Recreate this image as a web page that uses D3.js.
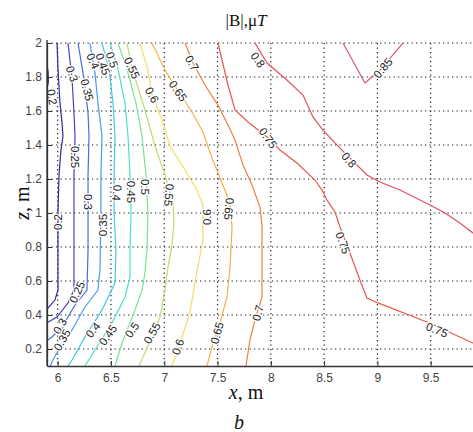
<!DOCTYPE html>
<html><head><meta charset="utf-8">
<script src="https://cdn.jsdelivr.net/npm/d3@7"></script>
<style>body{margin:0;background:#fff}svg{display:block}</style>
</head><body>
<svg id="c" width="473" height="432"></svg>
<script>
// ---- data ----
const xTicks = [6, 6.5, 7, 7.5, 8, 8.5, 9, 9.5, 10];
const zTicks = [0.2, 0.4, 0.6, 0.8, 1, 1.2, 1.4, 1.6, 1.8, 2];
const levels = [0.15, 0.2, 0.25, 0.3, 0.35, 0.4, 0.45, 0.5, 0.55, 0.6, 0.65, 0.7, 0.75, 0.8, 0.85];

const c015 = [[5.9,1.87],[5.91,1.83],[5.912,1.77],[5.9,1.73]];
const c020 = [[5.994,2.0],[6.003,1.847],[6.022,1.647],[6.041,1.529],[6.05,1.453],[6.031,1.371],[6.013,1.224],[6.003,1.0],[6.003,0.782],[6.003,0.547],[5.975,0.488],[5.9,0.435]];
const c025 = [[6.097,2.0],[6.135,1.788],[6.153,1.588],[6.163,1.453],[6.153,1.224],[6.153,0.782],[6.153,0.547],[6.097,0.471],[5.994,0.388],[5.9,0.355]];
const c030 = [[6.191,2.0],[6.247,1.788],[6.285,1.588],[6.294,1.453],[6.285,1.224],[6.285,0.782],[6.275,0.547],[6.163,0.459],[6.041,0.329],[5.947,0.271],[5.9,0.25]];
const c035 = [[6.303,2.0],[6.35,1.824],[6.378,1.647],[6.416,1.453],[6.406,1.224],[6.406,1.0],[6.397,0.665],[6.378,0.547],[6.256,0.447],[6.135,0.312],[6.022,0.212],[5.956,0.135],[5.93,0.1]];
const c040 = [[6.416,2.0],[6.482,1.847],[6.519,1.647],[6.538,1.453],[6.529,1.224],[6.529,1.0],[6.547,0.782],[6.538,0.588],[6.416,0.429],[6.256,0.271],[6.135,0.135],[6.097,0.1]];
const c045 = [[6.491,2.0],[6.566,1.847],[6.632,1.647],[6.66,1.453],[6.679,1.224],[6.688,1.0],[6.679,0.782],[6.679,0.624],[6.632,0.506],[6.51,0.353],[6.35,0.194],[6.256,0.1]];
const c050 = [[6.566,2.0],[6.65,1.847],[6.735,1.647],[6.791,1.453],[6.829,1.224],[6.847,1.0],[6.838,0.782],[6.819,0.647],[6.791,0.547],[6.726,0.429],[6.604,0.235],[6.538,0.1]];
const c055 = [[6.65,2.0],[6.697,1.853],[6.819,1.606],[6.913,1.394],[7.007,1.224],[7.082,1.059],[7.091,0.941],[7.073,0.812],[7.035,0.682],[7.007,0.547],[6.96,0.388],[6.885,0.271],[6.801,0.153],[6.763,0.1]];
const c060 = [[6.772,2.0],[6.847,1.841],[6.885,1.694],[6.979,1.547],[7.054,1.394],[7.195,1.253],[7.307,1.135],[7.363,1.047],[7.363,0.841],[7.298,0.624],[7.241,0.412],[7.148,0.235],[7.073,0.1]];
const c065 = [[6.885,2.0],[7.007,1.841],[7.129,1.718],[7.26,1.594],[7.363,1.476],[7.448,1.324],[7.542,1.176],[7.617,1.059],[7.636,0.918],[7.617,0.682],[7.589,0.506],[7.523,0.353],[7.448,0.212],[7.401,0.1]];
const c070 = [[7.195,2.0],[7.27,1.882],[7.382,1.753],[7.504,1.635],[7.598,1.518],[7.664,1.429],[7.739,1.282],[7.823,1.165],[7.898,1.035],[7.917,0.929],[7.917,0.506],[7.851,0.371],[7.804,0.253],[7.767,0.1]];
const c075 = [[7.504,2.0],[7.542,1.9],[7.598,1.753],[7.664,1.606],[7.786,1.535],[7.964,1.447],[8.086,1.371],[8.245,1.294],[8.414,1.194],[8.48,1.135],[8.527,1.076],[8.602,1.006],[8.649,0.918],[8.742,0.765],[8.836,0.606],[8.902,0.5],[9.005,0.471],[9.465,0.359],[9.896,0.235],[10,0.206]];
const c080 = [[7.851,2.0],[7.964,1.882],[8.151,1.782],[8.302,1.694],[8.395,1.565],[8.489,1.488],[8.649,1.382],[8.789,1.294],[8.902,1.224],[9.024,1.182],[9.211,1.135],[9.493,1.047],[9.634,1.0],[9.774,0.941],[9.896,0.882],[10,0.835]];
const c085 = [[8.677,2.0],[8.883,1.765],[9.024,1.841],[9.24,2.0]];

const labelText = ["0.2","0.3","0.35","0.4","0.45","0.5","0.55","0.6","0.65","0.7","0.8","0.85","0.75","0.8",
  "0.25","0.2","0.3","0.35","0.4","0.45","0.5","0.55","0.6","0.65","0.75","0.75","0.7","0.65","0.6","0.55","0.5","0.45","0.4","0.25","0.3","0.35"];
const labelX = [5.947,6.135,6.275,6.331,6.425,6.51,6.697,6.885,7.129,7.26,7.879,9.052,7.973,8.733,
  6.163,6.003,6.285,6.425,6.557,6.688,6.819,7.045,7.401,7.607,8.677,9.559,7.879,7.495,7.129,6.885,6.697,6.472,6.331,6.181,6.022,6.041];
const labelZ = [1.682,1.818,1.724,1.894,1.876,1.9,1.853,1.694,1.718,1.882,1.9,1.853,1.441,1.312,
  1.329,0.947,1.065,0.929,1.118,1.124,1.153,1.106,0.976,1.024,0.824,0.312,0.412,0.294,0.212,0.294,0.312,0.282,0.312,0.535,0.335,0.253];

// ---- styles ----
const lineColors = ["#1a1a80","#2b2b9c","#4444c8","#4a6ae0","#4a9af0","#40c8e8","#4ee0c8","#7ee09a","#b8e070","#f0e060","#f4b048","#f08040","#e85848","#e05060","#d06070"];
const labelAngle = [80,70,75,65,70,70,65,60,55,60,55,-50,55,50,
  90,-90,90,-90,95,90,90,95,-90,95,70,22,-75,-75,-70,-60,-55,-55,-50,-65,-60,-60];

const contourSets = [c015,c020,c025,c030,c035,c040,c045,c050,c055,c060,c065,c070,c075,c080,c085];

const svg = d3.select("#c");
const x = d3.scaleLinear().domain([5.9, 10]).range([47, 484]);
const z = d3.scaleLinear().domain([0.1, 2]).range([366, 43]);

svg.append("defs").append("clipPath").attr("id","clip")
  .append("rect").attr("x",47).attr("y",43).attr("width",437).attr("height",323);

// grid
const grid = svg.append("g").attr("stroke","#222").attr("stroke-width",1.2).attr("stroke-dasharray","1.3,3.2");
grid.selectAll("line.gx").data(xTicks).join("line").attr("class","gx")
  .attr("x1",d=>x(d)).attr("x2",d=>x(d)).attr("y1",43).attr("y2",366);
grid.selectAll("line.gz").data(zTicks).join("line").attr("class","gz")
  .attr("x1",47).attr("x2",484).attr("y1",d=>z(d)).attr("y2",d=>z(d));

// contours
const line = d3.line().x(d=>x(d[0])).y(d=>z(d[1]));
const cg = svg.append("g").attr("clip-path","url(#clip)");
cg.selectAll("path").data(contourSets).join("path")
  .attr("d", line).attr("fill","none")
  .attr("stroke",(d,i)=>lineColors[i]).attr("stroke-width",1.2);

// labels
const lg = svg.append("g").attr("clip-path","url(#clip)");
lg.selectAll("text").data(labelText).join("text")
  .attr("transform",(d,i)=>`translate(${x(labelX[i])},${z(labelZ[i])}) rotate(${labelAngle[i]})`)
  .attr("text-anchor","middle").attr("dy","0.35em")
  .attr("font-family","Liberation Sans, Arial, sans-serif").attr("font-size",11.5)
  .attr("fill","#222").attr("stroke","#fff").attr("stroke-width",2.5)
  .attr("paint-order","stroke")
  .text(d=>d);

// axes
const xAxis = svg.append("g").attr("transform","translate(0,366)")
  .call(d3.axisBottom(x).tickValues(xTicks.slice(0,8)).tickFormat(d3.format("")).tickSizeInner(-5).tickSizeOuter(0).tickPadding(7));
const zAxis = svg.append("g").attr("transform","translate(47,0)")
  .call(d3.axisLeft(z).tickValues(zTicks).tickFormat(d3.format("")).tickSizeInner(-5).tickSizeOuter(0).tickPadding(5));
[xAxis,zAxis].forEach(a=>{
  a.select(".domain").attr("stroke","#333").attr("stroke-width",1.3);
  a.selectAll(".tick line").attr("stroke","#333");
  a.selectAll("text").attr("font-family","Liberation Sans, Arial, sans-serif").attr("font-size",12).attr("fill","#444");
});
svg.append("line").attr("x1",47).attr("x2",47).attr("y1",40).attr("y2",366).attr("stroke","#333").attr("stroke-width",1.3);

// titles
const serif = "Liberation Serif, Times New Roman, serif";
const t = svg.append("text").attr("x",246).attr("y",26).attr("text-anchor","middle")
  .attr("font-family",serif).attr("font-size",17).attr("fill","#111");
t.append("tspan").text("|B|,μ");
t.append("tspan").attr("font-style","italic").text("T");

const xl = svg.append("text").attr("x",246).attr("y",399).attr("text-anchor","middle")
  .attr("font-family",serif).attr("font-size",20).attr("fill","#111");
xl.append("tspan").attr("font-style","italic").text("x");
xl.append("tspan").text(", m");

const zl = svg.append("text").attr("transform","translate(29,203) rotate(-90)").attr("text-anchor","middle")
  .attr("font-family",serif).attr("font-size",20).attr("fill","#111");
zl.append("tspan").attr("font-style","italic").text("z");
zl.append("tspan").text(", m");

svg.append("text").attr("x",239).attr("y",429).attr("text-anchor","middle")
  .attr("font-family",serif).attr("font-size",20).attr("font-style","italic").attr("fill","#111").text("b");
</script>
</body></html>
